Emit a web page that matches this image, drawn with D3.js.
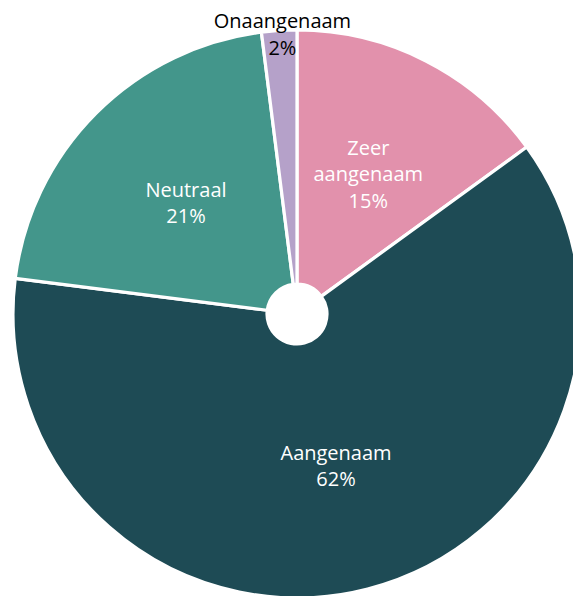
<!DOCTYPE html>
<html>
<head>
<meta charset="utf-8">
<script src="https://cdn.jsdelivr.net/npm/d3@7"></script>
<style>
  html, body { margin: 0; padding: 0; background: #fff; overflow: hidden; }
  svg { display: block; }
  text { font-family: "Open Sans", sans-serif; font-size: 20px; }
</style>
</head>
<body>
<svg id="chart" width="573" height="596"></svg>
<script>
const categories = ["Zeer aangenaam", "Aangenaam", "Neutraal", "Onaangenaam"];
const values = [15, 62, 21, 2];
const labelLines = [["Zeer", "aangenaam"], ["Aangenaam"], ["Neutraal"], ["Onaangenaam"]];
const colors = ["#e291ac", "#1e4b55", "#43968b", "#b5a1c9"];
const outsideLabel = [false, false, false, true];

const width = 573, height = 596;
const cx = 297, cy = 314;
const innerR = 30, outerR = 284;

const svg = d3.select("#chart");
const g = svg.append("g").attr("transform", `translate(${cx},${cy})`);

const data = categories.map((c, i) => ({ cat: c, value: values[i], lines: labelLines[i], color: colors[i], outside: outsideLabel[i] }));

const pie = d3.pie().value(d => d.value).sort(null);
const arcs = pie(data);

const arc = d3.arc().innerRadius(innerR).outerRadius(outerR);
const outerArc = d3.arc().innerRadius(280).outerRadius(280);

g.selectAll("path.slice")
  .data(arcs)
  .join("path")
  .attr("class", "slice")
  .attr("d", arc)
  .attr("fill", d => d.data.color)
  .attr("stroke", "#fff")
  .attr("stroke-width", 3.2)
  .attr("stroke-linejoin", "round");

const lineH = 26.5;
const total = d3.sum(values);

const labels = g.selectAll("text.lbl")
  .data(arcs)
  .join("text")
  .attr("class", "lbl")
  .attr("text-anchor", "middle")
  .attr("fill", d => d.data.outside ? "#000" : "#fff")
  .attr("transform", d => {
    const p = d.data.outside ? outerArc.centroid(d) : arc.centroid(d);
    if (d.data.outside) p[0] += 3;
    return `translate(${p[0]},${p[1]})`;
  });

labels.each(function(d) {
  const lines = d.data.lines.concat([Math.round(d.data.value / total * 100) + "%"]);
  const n = lines.length;
  const t = d3.select(this);
  lines.forEach((ln, i) => {
    t.append("tspan")
      .attr("x", 0)
      .attr("y", (i - (n - 1) / 2) * lineH + 7)
      .text(ln);
  });
});
</script>
</body>
</html>
